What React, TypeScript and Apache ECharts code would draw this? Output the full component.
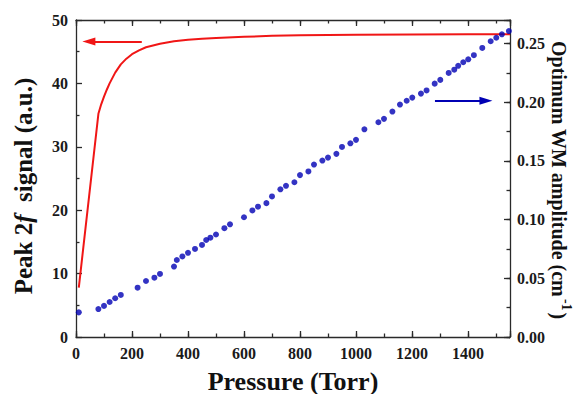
import React, { useEffect, useRef } from "react";
import * as echarts from "echarts";

// Red curve: peak 2f signal (a.u.) vs pressure (Torr)
const redPressure = [10, 80, 90, 100, 110, 120, 140, 160, 180, 200, 225, 250, 300, 350, 400, 450, 500, 600, 700, 800, 1000, 1200, 1400, 1550];
const redSignal = [7.8, 35.2, 36.7, 37.9, 39.0, 40.0, 41.7, 43.0, 43.9, 44.6, 45.2, 45.7, 46.25, 46.65, 46.9, 47.05, 47.15, 47.35, 47.5, 47.6, 47.68, 47.72, 47.75, 47.75];

// Blue dots: optimum WM amplitude (cm^-1) vs pressure (Torr)
const bluePressure = [10, 80, 100, 120, 140, 160, 220, 250, 280, 300, 350, 360, 380, 400, 425, 450, 465, 480, 500, 530, 550, 600, 630, 650, 680, 700, 730, 750, 780, 800, 830, 850, 880, 900, 930, 950, 980, 1000, 1030, 1080, 1100, 1130, 1157, 1181, 1201, 1232, 1252, 1281, 1301, 1331, 1351, 1365, 1383, 1401, 1421, 1451, 1481, 1501, 1521, 1546];
const blueAmplitude = [0.021, 0.0238, 0.0265, 0.0298, 0.033, 0.0358, 0.042, 0.0477, 0.0505, 0.0537, 0.06, 0.0656, 0.0686, 0.0717, 0.075, 0.0784, 0.0826, 0.0846, 0.0873, 0.0927, 0.096, 0.102, 0.1078, 0.111, 0.114, 0.1197, 0.1258, 0.1288, 0.1318, 0.1379, 0.141, 0.1469, 0.1503, 0.1528, 0.156, 0.1619, 0.165, 0.1679, 0.1769, 0.1829, 0.1858, 0.192, 0.198, 0.2012, 0.2039, 0.2073, 0.21, 0.2158, 0.219, 0.2249, 0.2277, 0.231, 0.234, 0.2365, 0.24, 0.2462, 0.2519, 0.2549, 0.2578, 0.2606];

// Axis ranges / ticks
const xRange = [0, 1550];
const xMajor = 200;
const xMinor = 100;
const yLeftRange = [0, 50];
const yLeftMajor = 10;
const yRightRange = [0, 0.27];
const yRightMajor = 0.05;
const yRightMinor = 0.025;

// Indicator arrows (data coordinates)
const redArrow = { from: [46, 46.6], to: [235, 46.6] };
const blueArrow = { from: [1282, 0.2013], to: [1464, 0.2013] };

const FONT = "'Liberation Serif', 'Times New Roman', serif";
const AXIS_COLOR = "#2a2a2a";
const RED = "#f01616";
const BLUE = "#0000b4";

export default function App() {
  const ref = useRef<HTMLDivElement>(null);
  useEffect(() => {
    if (!ref.current) return;
    const chart = echarts.init(ref.current, undefined, { renderer: "svg" });
    const axisLine = { show: true, onZero: false, lineStyle: { color: AXIS_COLOR, width: 1.3 } };
    const labelStyle = { fontFamily: FONT, fontWeight: "bold" as const, fontSize: 16, color: "#1a1a1a" };
    const majorTick = { show: true, inside: true, length: 6, lineStyle: { color: AXIS_COLOR, width: 1.3 } };
    const minorTickAx = { show: true, inside: true, length: 3.5, lineStyle: { color: AXIS_COLOR, width: 1.3 } };
    const pairsRed = redPressure.map((p, i) => [p, redSignal[i]]);
    const pairsBlue = bluePressure.map((p, i) => [p, blueAmplitude[i]]);
    chart.setOption({
      animation: false,
      grid: { left: 76, right: 69, top: 20, bottom: 57, containLabel: false },
      xAxis: [
        {
          type: "value", position: "bottom", min: xRange[0], max: xRange[1], interval: xMajor,
          axisLine, axisTick: majorTick, splitLine: { show: false },
          axisLabel: {
            ...labelStyle, margin: 8,
            formatter: (v: number) => (v % xMajor === 0 && v <= 1400 ? String(v) : ""),
          },
        },
        {
          type: "value", position: "bottom", min: xRange[0], max: xRange[1], interval: xMinor,
          axisLine: { show: false, onZero: false }, axisTick: minorTickAx, splitLine: { show: false },
          axisLabel: { show: false },
        },
        {
          type: "value", position: "top", min: xRange[0], max: xRange[1], interval: xMajor,
          axisLine, axisTick: majorTick, splitLine: { show: false }, axisLabel: { show: false },
        },
        {
          type: "value", position: "top", min: xRange[0], max: xRange[1], interval: xMinor,
          axisLine: { show: false, onZero: false }, axisTick: minorTickAx, splitLine: { show: false },
          axisLabel: { show: false },
        },
      ],
      yAxis: [
        {
          type: "value", position: "left", min: yLeftRange[0], max: yLeftRange[1], interval: yLeftMajor,
          axisLine, axisTick: majorTick,
          minorTick: { show: true, splitNumber: 2, length: 3.5, lineStyle: { color: AXIS_COLOR, width: 1.3 } },
          splitLine: { show: false }, minorSplitLine: { show: false },
          axisLabel: { ...labelStyle, margin: 8 },
        },
        {
          type: "value", position: "right", min: yRightRange[0], max: yRightRange[1], interval: yRightMajor,
          axisLine, axisTick: majorTick, splitLine: { show: false },
          axisLabel: {
            ...labelStyle, margin: 7,
            formatter: (v: number) => {
              const k = Math.round(v / yRightMajor);
              return Math.abs(k * yRightMajor - v) < 1e-6 ? v.toFixed(2) : "";
            },
          },
        },
        {
          type: "value", position: "right", min: yRightRange[0], max: yRightRange[1], interval: yRightMinor,
          axisLine: { show: false, onZero: false }, axisTick: minorTickAx, splitLine: { show: false },
          axisLabel: { show: false },
        },
      ],
      series: [
        {
          type: "line", xAxisIndex: 0, yAxisIndex: 0, data: pairsRed, showSymbol: false, symbol: "none",
          lineStyle: { color: RED, width: 2 }, itemStyle: { color: RED }, silent: true, z: 3,
          markLine: {
            silent: true, animation: false,
            symbol: ["triangle", "none"], symbolSize: [8, 13],
            label: { show: false },
            lineStyle: { color: RED, width: 2, type: "solid" },
            data: [[{ coord: redArrow.from }, { coord: redArrow.to }]],
          },
        },
        {
          type: "scatter", xAxisIndex: 0, yAxisIndex: 1, data: pairsBlue, symbolSize: 6,
          itemStyle: { color: BLUE }, silent: true, z: 4,
          markLine: {
            silent: true, animation: false,
            symbol: ["none", "triangle"], symbolSize: [8, 13],
            label: { show: false },
            lineStyle: { color: BLUE, width: 2, type: "solid" },
            data: [[{ coord: blueArrow.from }, { coord: blueArrow.to }]],
          },
        },
      ],
      graphic: [
        {
          type: "text", x: 293, y: 381, silent: true,
          style: {
            text: "Pressure (Torr)", fontFamily: FONT, fontWeight: "bold", fontSize: 26,
            fill: "#111", align: "center", verticalAlign: "middle",
          },
        },
        {
          type: "text", x: 23, y: 186, rotation: Math.PI / 2, silent: true,
          style: {
            text: "Peak 2{i|f}  signal (a.u.)", fontFamily: FONT, fontWeight: "bold", fontSize: 25,
            fill: "#111", align: "center", verticalAlign: "middle",
            rich: { i: { fontFamily: FONT, fontWeight: "bold", fontStyle: "italic", fontSize: 25, fill: "#111" } },
          },
        },
        {
          type: "text", x: 559, y: 180, rotation: -Math.PI / 2, silent: true,
          style: {
            text: "Optimum WM amplitude (cm{s|-1})", fontFamily: FONT, fontWeight: "bold", fontSize: 20,
            fill: "#111", align: "center", verticalAlign: "middle", lineHeight: 28,
            rich: {
              s: { fontFamily: FONT, fontWeight: "bold", fontSize: 14, fill: "#111", verticalAlign: "top", lineHeight: 28, padding: [0, 2, 12, 2] },
            },
          },
        },
      ],
    });
    return () => chart.dispose();
  }, []);
  return (
    <div
      ref={ref}
      style={{ position: "fixed", left: 0, top: 0, width: 579, height: 394, background: "#fff" }}
    />
  );
}
